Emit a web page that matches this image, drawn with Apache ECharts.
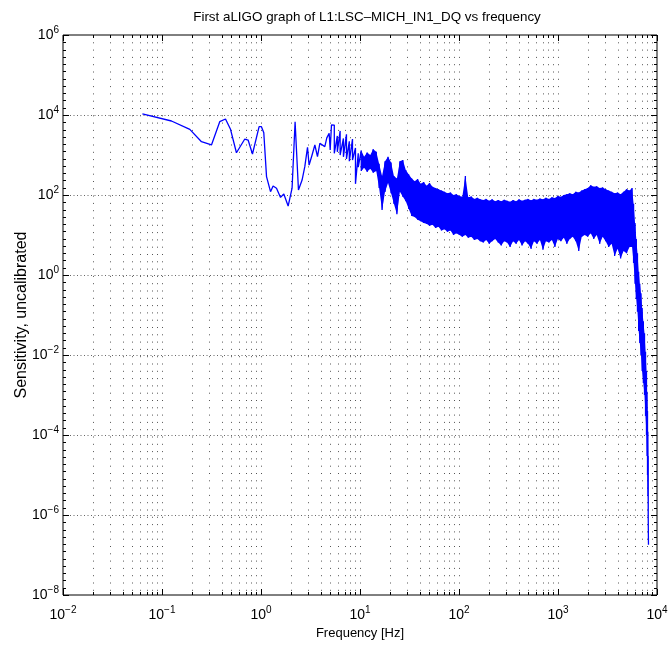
<!DOCTYPE html>
<html><head><meta charset="utf-8">
<script src="https://cdn.jsdelivr.net/npm/echarts@6/dist/echarts.min.js"></script>
<style>html,body{margin:0;padding:0;background:#fff}#c{width:668px;height:650px}</style>
</head><body><div id="c"></div>
<script>
const titleText = 'First aLIGO graph of L1:LSC\u2013MICH_IN1_DQ vs frequency';
const xAxisName = 'Frequency [Hz]';
const yAxisName = 'Sensitivity, uncalibrated';
const xTickExp = [-2, -1, 0, 1, 2, 3, 4];
const yTickExp = [-8, -6, -4, -2, 0, 2, 4, 6];

// smooth low-frequency part (Hz, sensitivity)
const lowFreq = [0.0634, 0.1246, 0.191, 0.2504, 0.316, 0.383, 0.438, 0.492, 0.565, 0.686, 0.741, 0.820, 0.957, 1.01, 1.067, 1.137, 1.248, 1.325, 1.434, 1.575, 1.70, 1.88, 2.06, 2.21, 2.39, 2.60, 2.77, 2.95, 3.06, 3.28, 3.50, 3.72, 3.93, 4.41, 4.62, 4.88, 5.0, 5.15, 5.35];
const lowVal = [10600, 7080, 4380, 2150, 1780, 6800, 7940, 4380, 1140, 2510, 2370, 1060, 5100, 5100, 3600, 288, 121, 168, 148, 87, 106, 53, 148, 6800, 133, 237, 510, 1560, 560, 1000, 1780, 910, 1960, 1620, 2680, 3470, 1330, 5620, 5620];

// noisy band: per frequency bin, max and min of the trace
const bandFreq = [5.5, 5.9, 6.3, 6.8, 7.3, 7.8, 8.4, 9.0, 9.6, 10.3, 11.0, 11.8, 12.7, 13.6, 14.6, 15.6, 16.7, 17.9, 19.2, 20.6, 22.0, 23.6, 25.3, 27.1, 29.0, 31.0, 33.3, 35.7, 38.2, 41.0, 44.0, 47.0, 50.4, 54.0, 58.0, 62.0, 66.5, 71.3, 76.4, 82.0, 88.0, 94.0, 101, 108, 116, 124, 133, 143, 153, 164, 176, 188, 202, 216, 232, 249, 267, 286, 306, 328, 352, 377, 404, 433, 465, 498, 534, 572, 613, 657, 705, 755, 810, 868, 930, 997, 1070, 1145, 1228, 1316, 1410, 1512, 1620, 1737, 1862, 1996, 2140, 2294, 2459, 2636, 2826, 3030, 3248, 3481, 3732, 4000, 4288, 4597, 4928, 5283];
const bandHigh = [5600, 3000, 4000, 2600, 3300, 2200, 2500, 1500, 1100, 1300, 900, 1150, 1000, 1400, 1200, 600, 300, 700, 900, 650, 300, 260, 700, 750, 420, 330, 260, 220, 250, 190, 210, 170, 200, 160, 150, 140, 130, 120, 110, 115, 100, 105, 95, 90, 300, 88, 92, 80, 85, 78, 75, 80, 72, 78, 70, 75, 70, 76, 72, 68, 75, 70, 78, 72, 76, 80, 74, 80, 76, 82, 78, 85, 80, 88, 84, 95, 90, 100, 105, 110, 105, 120, 115, 130, 140, 150, 175, 160, 165, 150, 155, 140, 130, 120, 110, 115, 105, 120, 140, 130];
const bandLow = [1100, 1200, 1000, 900, 800, 700, 750, 190, 500, 400, 480, 380, 450, 360, 400, 150, 42, 120, 200, 110, 60, 33, 120, 90, 70, 45, 30, 28, 24, 22, 20, 19, 17, 18, 15, 16, 13, 14, 12, 13, 10, 11, 10, 9, 10, 8.5, 9, 7.5, 8, 7, 6.5, 7.5, 6, 7, 8, 6.5, 5.5, 7, 6.5, 5, 7, 6, 7.5, 5.5, 7, 6, 4.5, 7, 6, 7.5, 4.3, 7, 6.5, 7.5, 5, 8, 7, 8.5, 6, 8, 9, 7, 4, 9, 10, 9, 11, 8, 10, 6, 9, 7, 5, 6, 3, 4.5, 2.6, 4, 3.5, 5];

// high-frequency roll-off
const rollFreq = [5600, 5800, 6000, 6180, 6350, 6530, 6700, 6890, 7080, 7280, 7480, 7660, 7830, 7930, 8020, 8090, 8150, 8200];
const rollHigh = [150, 60, 20, 8, 3.5, 1.2, 0.6, 0.35, 0.15, 0.07, 0.035, 0.012, 0.004, 0.0012, 4e-4, 1.2e-4, 3e-5, 1.8e-7];
const rollLow = [5, 2, 0.6, 0.25, 0.12, 0.04, 0.02, 0.01, 0.004, 0.002, 0.001, 3e-4, 1e-4, 3e-5, 1e-5, 3e-6, 1e-6, 1.8e-7];

const lineData = [];
lowFreq.forEach((f, i) => lineData.push([f, lowVal[i]]));
bandFreq.forEach((f, i) => { lineData.push([f, bandHigh[i]]); lineData.push([f, bandLow[i]]); });
rollFreq.forEach((f, i) => { lineData.push([f, rollHigh[i]]); lineData.push([f, rollLow[i]]); });

// envelope (max then min, back) of the dense band, used for its fill
const fillStart = 9;
const envelope = [];
for (let i = fillStart; i < bandFreq.length; i++) envelope.push([bandFreq[i], bandHigh[i]]);
for (let i = 0; i < rollFreq.length; i++) envelope.push([rollFreq[i], rollHigh[i]]);
for (let i = rollFreq.length - 1; i >= 0; i--) envelope.push([rollFreq[i], rollLow[i]]);
for (let i = bandFreq.length - 1; i >= fillStart; i--) envelope.push([bandFreq[i], bandLow[i]]);

// tick positions for the log grid
const xGrid = [];
for (let e = xTickExp[0]; e < xTickExp[xTickExp.length - 1]; e++) {
  for (let m = 1; m <= 9; m++) xGrid.push([m * Math.pow(10, e), m === 1 ? 1 : 0]);
}
xGrid.push([Math.pow(10, xTickExp[xTickExp.length - 1]), 1]);
const yGrid = [];
const ySteps = 11;
for (let k = 0; k <= (yTickExp.length - 1) * ySteps; k++) {
  const e = yTickExp[0] + k * 2 / ySteps;
  yGrid.push([1, Math.pow(10, e), k % ySteps === 0 ? 1 : 0]);
}

const FONT = 'Liberation Sans, Arial, Helvetica, sans-serif';
function supLabel(v) {
  const e = Math.round(Math.log10(v));
  return '{b|10}{e|' + (e < 0 ? '\u2212' + (-e) : e) + '}';
}
const rich = {
  b: { fontSize: 14, fontFamily: FONT, color: '#000', lineHeight: 20 },
  e: { fontSize: 10, fontFamily: FONT, color: '#000', lineHeight: 10, verticalAlign: 'top' }
};

const chart = echarts.init(document.getElementById('c'), null, { renderer: 'canvas' });
chart.setOption({
  animation: false,
  backgroundColor: '#fff',
  title: {
    text: titleText, left: 362, top: 6, textAlign: 'center',
    textStyle: { fontSize: 13.4, fontWeight: 'normal', fontFamily: FONT, color: '#000' }
  },
  grid: { left: 63, right: 11, top: 35, bottom: 55, show: true, borderColor: '#000', borderWidth: 1, containLabel: false, outerBoundsMode: 'none' },
  xAxis: {
    type: 'log', logBase: 10, min: 0.01, max: 10000,
    name: xAxisName, nameLocation: 'middle', nameGap: 32, nameMoveOverlap: false,
    nameTextStyle: { fontSize: 13, fontFamily: FONT, color: '#000' },
    axisLine: { show: false }, axisTick: { show: false }, splitLine: { show: false },
    axisLabel: { margin: 10, formatter: supLabel, rich: rich, customValues: xTickExp.map(e => Math.pow(10, e)) }
  },
  yAxis: {
    type: 'log', logBase: 10, min: 1e-8, max: 1e6,
    name: yAxisName, nameLocation: 'middle', nameGap: 33, nameMoveOverlap: false,
    nameTextStyle: { fontSize: 16, fontFamily: FONT, color: '#000' },
    axisLine: { show: false }, axisTick: { show: false }, splitLine: { show: false },
    axisLabel: { margin: 4, formatter: supLabel, rich: rich, customValues: yTickExp.map(e => Math.pow(10, e)) }
  },
  series: [
    {
      type: 'custom', silent: true, z: 1, data: xGrid, clip: false,
      renderItem: function (params, api) {
        const cs = params.coordSys;
        const x = Math.round(api.coord([api.value(0), 1])[0]) + 0.5;
        const top = cs.y, bot = cs.y + cs.height;
        const major = api.value(1) === 1;
        const len = major ? 6 : 3;
        const ch = [];
        if (x > cs.x + 1 && x < cs.x + cs.width - 1) {
          ch.push({ type: 'line', shape: { x1: x, y1: top, x2: x, y2: bot }, style: { stroke: '#555', lineWidth: 1, lineDash: [1, 6.3] } });
        }
        ch.push({ type: 'line', shape: { x1: x, y1: bot, x2: x, y2: bot - len }, style: { stroke: '#000', lineWidth: 1 } });
        ch.push({ type: 'line', shape: { x1: x, y1: top, x2: x, y2: top + len }, style: { stroke: '#000', lineWidth: 1 } });
        return { type: 'group', children: ch };
      }
    },
    {
      type: 'custom', silent: true, z: 1, data: yGrid, clip: false,
      renderItem: function (params, api) {
        const cs = params.coordSys;
        const y = Math.round(api.coord([1, api.value(1)])[1]) + 0.5;
        const left = cs.x, right = cs.x + cs.width;
        const major = api.value(2) === 1;
        const len = major ? 6 : 3;
        const ch = [];
        if (major && y > cs.y + 1 && y < cs.y + cs.height - 1) {
          ch.push({ type: 'line', shape: { x1: left, y1: y, x2: right, y2: y }, style: { stroke: '#666', lineWidth: 1, lineDash: [1, 2.5] } });
        }
        ch.push({ type: 'line', shape: { x1: left, y1: y, x2: left + len, y2: y }, style: { stroke: '#000', lineWidth: 1 } });
        ch.push({ type: 'line', shape: { x1: right, y1: y, x2: right - len, y2: y }, style: { stroke: '#000', lineWidth: 1 } });
        return { type: 'group', children: ch };
      }
    },
    {
      type: 'custom', silent: true, z: 2, data: [[1, 1]], clip: true,
      renderItem: function (params, api) {
        const pts = envelope.map(p => api.coord(p));
        return { type: 'polygon', shape: { points: pts }, style: { fill: '#0000ff' } };
      }
    },
    {
      type: 'line', data: lineData, showSymbol: false, symbol: 'none', z: 3,
      lineStyle: { color: '#0000ff', width: 1.3 }, itemStyle: { color: '#0000ff' }
    }
  ]
});
</script>
</body></html>
